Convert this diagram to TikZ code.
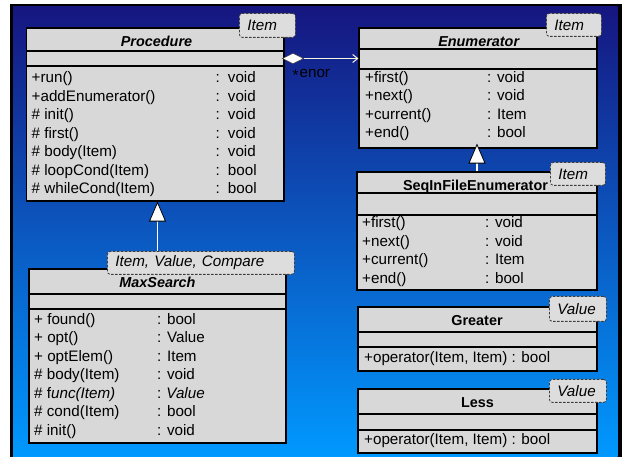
\documentclass[tikz,border=0pt]{standalone}
\usepackage{fontspec}
\setmainfont{Liberation Sans}
\usetikzlibrary{arrows.meta}
\definecolor{boxgray}{RGB}{216,216,216}
\definecolor{taggray}{RGB}{221,221,221}
\definecolor{tagline}{RGB}{60,60,60}
\definecolor{bgtop}{RGB}{22,22,128}
\definecolor{bgbot}{RGB}{0,153,255}
\definecolor{wire}{RGB}{246,246,228}
\newcommand\bodysize{\fontsize{15.2}{18}\selectfont}
\newcommand\titlesize{\fontsize{14.4}{17}\selectfont}
\newcommand\oprow[6]{\node[txt] (#1n) at (#2,#3) {#4};\node[txt] (#1t) at (#5,#3) {#6};}
\begin{document}
\begin{tikzpicture}[x=1pt,y=-1pt,
  comp/.style={draw=black, line width=1.1pt, fill=boxgray, inner sep=0pt},
  tagbox/.style={draw=tagline, line width=0.8pt, dash pattern=on 2.5pt off 1.5pt, fill=taggray, rounded corners=3pt, inner xsep=8pt, inner ysep=0pt, align=left, font=\bodysize\itshape, anchor=north west},
  txt/.style={inner sep=0pt, anchor=base west, font=\bodysize},
  ttl/.style={inner sep=0pt, anchor=base, font=\titlesize\bfseries},
  inherit/.style={draw=white, line width=1.1pt, -{Triangle[length=20pt,width=17pt,color=black,fill=white,line width=0.8pt]}},
  aggr/.style={draw=wire, line width=1pt, -{Straight Barb[length=5pt,width=8pt,color=wire]}},
  diam/.style={fill=white, draw=tagline, line width=0.5pt, line join=miter}
]
\useasboundingbox (0,0) rectangle (625,457);
\fill[white] (0,0) rectangle (625,457);
\fill[black] (10,4) rectangle (622,457);
\shade[top color=bgtop, bottom color=bgbot] (13,7) rectangle (617.5,457);

% Procedure
\node[comp, minimum width=257.3pt, minimum height=23pt] (procN) at (155.35,39.5) {};
\node[comp, minimum width=257.3pt, minimum height=15pt] (procA) at (155.35,58.5) {};
\node[comp, minimum width=257.3pt, minimum height=135pt] (procO) at (155.35,133.5) {};
% Enumerator
\node[comp, minimum width=238pt, minimum height=21pt] (enumN) at (478,38.5) {};
\node[comp, minimum width=238pt, minimum height=20pt] (enumA) at (478,59) {};
\node[comp, minimum width=238pt, minimum height=79pt] (enumO) at (478,108.5) {};
% SeqInFileEnumerator
\node[comp, minimum width=240pt, minimum height=21pt] (seqN) at (477,182.5) {};
\node[comp, minimum width=240pt, minimum height=22pt] (seqA) at (477,204) {};
\node[comp, minimum width=240pt, minimum height=75pt] (seqO) at (477,252.5) {};
% Greater
\node[comp, minimum width=239pt, minimum height=25pt] (grN) at (477.5,319.5) {};
\node[comp, minimum width=239pt, minimum height=15pt] (grA) at (477.5,339.5) {};
\node[comp, minimum width=239pt, minimum height=24pt] (grO) at (477.5,359) {};
% Less
\node[comp, minimum width=239pt, minimum height=25pt] (leN) at (477.5,401.5) {};
\node[comp, minimum width=239pt, minimum height=16pt] (leA) at (477.5,422) {};
\node[comp, minimum width=239pt, minimum height=23pt] (leO) at (477.5,441.5) {};
% MaxSearch
\node[comp, minimum width=257pt, minimum height=25pt] (msN) at (157.5,281.5) {};
\node[comp, minimum width=257pt, minimum height=15pt] (msA) at (157.5,301.5) {};
\node[comp, minimum width=257pt, minimum height=134pt] (msO) at (157.5,376) {};

% connectors
\draw[aggr, shorten <=19pt] (procA.east) -- (procA.east -| enumA.west);
\draw[diam] ([xshift=-2pt]procA.east) -- ++(10.5,-5.2) -- ++(10.5,5.2) -- ++(-10.5,5.2) -- cycle;
\node[txt] (enorlab) at (292.5,78) {\raisebox{-3pt}{*}\hspace{1pt}enor};
\draw[inherit, shorten >=-5pt] (seqN.north) -- (seqN.north |- enumO.south);

% tags
\node[tagbox, text width=40pt, minimum height=24pt] (procTag) at (239,13) {Item};
\node[tagbox, text width=39pt, minimum height=23pt] (enumTag) at (546,13) {Item};
\node[tagbox, text width=39pt, minimum height=23pt] (seqTag) at (550,162) {Item};
\node[tagbox, text width=41pt, minimum height=25pt] (grTag) at (549,296) {Value};
\node[tagbox, text width=41pt, minimum height=23pt] (leTag) at (549,379) {Value};
\node[tagbox, text width=171pt, minimum height=23pt] (msTag) at (107,251) {Item, Value, Compare};

\draw[inherit] (msN.north |- msTag.north) -- (msN.north |- procO.south);

% titles
\node[ttl, font=\titlesize\bfseries\itshape] (procT) at (156.5,47) {Procedure};
\node[ttl, font=\titlesize\bfseries\itshape] (enumT) at (478.7,47) {Enumerator};
\node[ttl] (seqT) at (475.5,191) {SeqInFileEnumerator};
\node[ttl] (grT) at (477,326) {Greater};
\node[ttl] (leT) at (477.5,408) {Less};
\node[ttl, font=\titlesize\bfseries\itshape] (msT) at (157.5,288) {MaxSearch};

% Procedure operations
\oprow{p1}{31.5}{83}{+run()}{215.5}{:\hspace{8pt}void}
\oprow{p2}{31.5}{101.5}{+addEnumerator()}{215.5}{:\hspace{8pt}void}
\oprow{p3}{31.5}{120}{\# init()}{215.5}{:\hspace{8pt}void}
\oprow{p4}{31.5}{138.5}{\# first()}{215.5}{:\hspace{8pt}void}
\oprow{p5}{31.5}{157}{\# body(Item)}{215.5}{:\hspace{8pt}void}
\oprow{p6}{31.5}{175.5}{\# loopCond(Item)}{215.5}{:\hspace{8pt}bool}
\oprow{p7}{31.5}{194}{\# whileCond(Item)}{215.5}{:\hspace{8pt}bool}
% Enumerator operations
\oprow{e1}{365}{82.5}{+first()}{487}{: void}
\oprow{e2}{365}{100.9}{+next()}{487}{: void}
\oprow{e3}{365}{119.3}{+current()}{487}{: Item}
\oprow{e4}{365}{137.7}{+end()}{487}{: bool}
% SeqInFileEnumerator operations
\oprow{s1}{362}{227.5}{+first()}{485}{: void}
\oprow{s2}{362}{246.1}{+next()}{485}{: void}
\oprow{s3}{362}{264.7}{+current()}{485}{: Item}
\oprow{s4}{362}{283.3}{+end()}{485}{: bool}
% Greater, Less
\node[txt] (grOp) at (364,362.5) {+operator(Item, Item) : bool};
\node[txt] (leOp) at (364,444.5) {+operator(Item, Item) : bool};
% MaxSearch operations
\oprow{m1}{34}{324.5}{+ found()}{157}{: bool}
\oprow{m2}{34}{343}{+ opt()}{157}{: Value}
\oprow{m3}{34}{361.5}{+ optElem()}{157}{: Item}
\oprow{m4}{34}{380}{\# body(Item)}{157}{: void}
\oprow{m5}{34}{398.5}{\# f\textit{unc(Item)}}{157}{:\hspace{5pt}\textit{Value}}
\oprow{m6}{34}{417}{\# cond(Item)}{157}{: bool}
\oprow{m7}{34}{435.5}{\# init()}{157}{: void}
\end{tikzpicture}
\end{document}
